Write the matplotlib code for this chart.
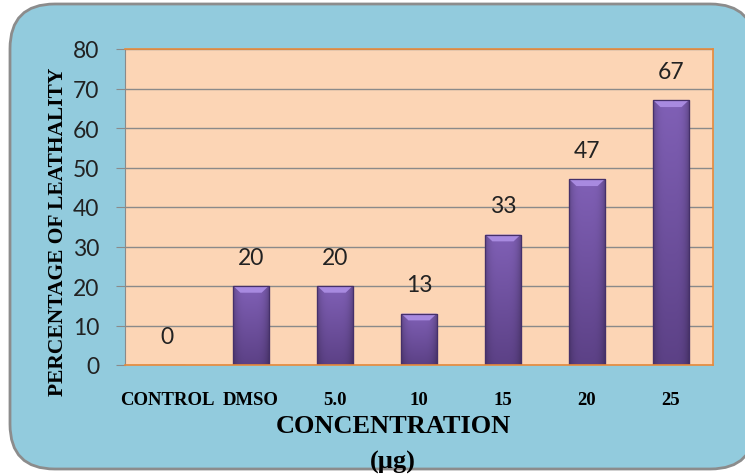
import numpy as np
import matplotlib.pyplot as plt
from matplotlib.patches import FancyBboxPatch, Polygon
from matplotlib.colors import to_rgb

categories = ['CONTROL', 'DMSO', '5.0', '10', '15', '20', '25']
lethality = [0, 20, 20, 13, 33, 47, 67]

W, H = 745, 477
fig = plt.figure(figsize=(W / 100, H / 100), dpi=100)
fig.patch.set_facecolor('white')

# rounded blue panel behind everything
panel = FancyBboxPatch((10 / W, 7 / H), 745 / W, 465 / H,
                       boxstyle='round,pad=0,rounding_size=0.06',
                       transform=fig.transFigure, facecolor='#92CBDD',
                       edgecolor='#8c8c8c', linewidth=2, zorder=-10,
                       mutation_aspect=W / H)
fig.patches.append(panel)

ax = fig.add_axes([125 / W, 1 - 366 / H, (713 - 125) / W, (366 - 50) / H])
ax.set_zorder(1)
ax.set_facecolor('#FCD5B5')
ax.set_xlim(0, len(categories))
ax.set_ylim(0, 80)
ax.set_yticks(range(0, 81, 10))
ax.grid(axis='y', color='#8a8a8a', linewidth=1)
ax.set_axisbelow(True)
for side in ['top', 'right', 'bottom']:
    ax.spines[side].set_color('#E88A3A')
    ax.spines[side].set_linewidth(1.2)
ax.spines['left'].set_color('#8a8a8a')
ax.tick_params(axis='y', length=6.5, color='#8a8a8a', labelsize=16.5, pad=12)
ax.tick_params(axis='x', length=0, pad=18.5)
for lab in ax.get_yticklabels():
    lab.set_fontfamily('Lato')
    lab.set_color('#222222')

x = np.arange(len(categories)) + 0.5
ax.set_xticks(x)
ax.set_xticklabels(categories, fontfamily='Liberation Serif',
                   fontweight='bold', fontsize=13.5)

bar_w = 0.42
bars = ax.bar(x, lethality, width=bar_w, color='#6B4A98',
              edgecolor='#3e2a5c', linewidth=0.8, zorder=2)

# bar fill: lighter at top, darker at bottom, darkened towards the sides
top_c = np.array(to_rgb('#8060B6'))
bot_c = np.array(to_rgb('#5C4186'))
ny, nx = 64, 32
t = np.linspace(0, 1, ny)[:, None, None]
u = np.linspace(-1, 1, nx)[None, :, None]
fill = (1 - t) * top_c + t * bot_c
fill = fill * (1 - 0.22 * np.abs(u) ** 4)

for b, v in zip(bars, lethality):
    if v <= 0:
        continue
    x0, w = b.get_x(), b.get_width()
    im = ax.imshow(fill, extent=(x0, x0 + w, 0, v), aspect='auto',
                   origin='upper', zorder=2.1, interpolation='bilinear')
    im.set_clip_path(b)
    bev = 1.7
    ax.add_patch(Polygon([(x0, v), (x0 + w, v), (x0 + w * 0.8, v - bev),
                          (x0 + w * 0.2, v - bev)], closed=True,
                         facecolor='#A88AE0', edgecolor='none', zorder=2.2))
    ax.add_patch(plt.Rectangle((x0, 0), w, v, fill=False,
                               edgecolor='#45306a', linewidth=0.9, zorder=2.3))

for xi, v in zip(x, lethality):
    ax.text(xi, v + 4.6, str(v), ha='center', va='bottom', fontsize=16.5,
            fontfamily='Lato', color='#222222', zorder=3)

fig.text(58 / W, 1 - 232 / H, 'PERCENTAGE OF LEATHALITY', rotation=90,
         ha='center', va='center', fontfamily='Liberation Serif',
         fontweight='bold', fontsize=15.5)
fig.text(393 / W, 1 - 427 / H, 'CONCENTRATION', ha='center', va='center',
         fontfamily='Liberation Serif', fontweight='bold', fontsize=19)
fig.text(393 / W, 1 - 462 / H, '(µg)', ha='center', va='center',
         fontfamily='Liberation Serif', fontweight='bold', fontsize=19)

fig.savefig('out.png', dpi=100)
